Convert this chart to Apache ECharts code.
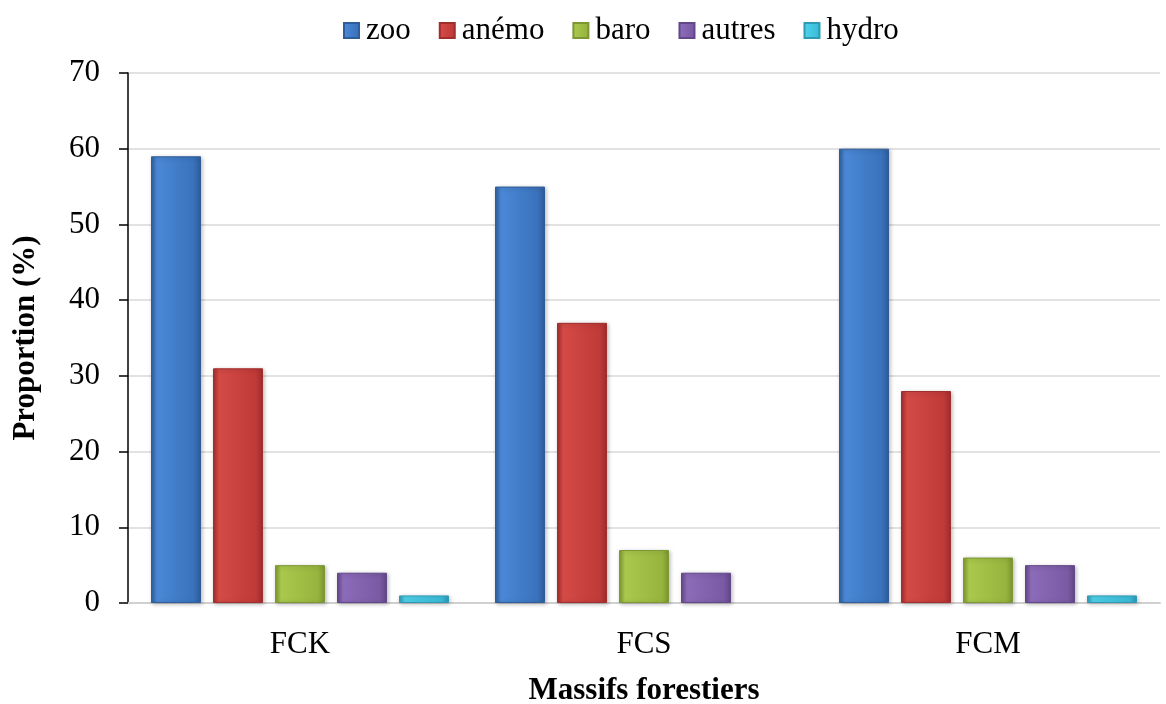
<!DOCTYPE html>
<html><head><meta charset="utf-8">
<script src="https://cdn.jsdelivr.net/npm/echarts@6/dist/echarts.min.js"></script>
<style>html,body{margin:0;padding:0;background:#fff}#c{width:1166px;height:704px}</style>
</head><body><div id="c"></div>
<script>
const categories = ['FCK', 'FCS', 'FCM'];
const seriesNames = ['zoo', 'anémo', 'baro', 'autres', 'hydro'];
const zoo = [59, 55, 60];
const anemo = [31, 37, 28];
const baro = [5, 7, 6];
const autres = [4, 4, 5];
const hydro = [1, 0, 1];
const yTicks = [0, 10, 20, 30, 40, 50, 60, 70];

const values = [zoo, anemo, baro, autres, hydro];
const colors = [
  ['#4a88d6', '#3a72bc', '#2f5d99'],
  ['#d44a47', '#c03a38', '#a02e2d'],
  ['#a9c84c', '#97b53e', '#7d9732'],
  ['#8c6bb8', '#7a5aa5', '#634889'],
  ['#4fd0ea', '#3bbcd8', '#2e9ab3']
];
const font = '"Liberation Serif","Times New Roman",serif';
const FS = 31;

const chart = echarts.init(document.getElementById('c'));
chart.setOption({
  animation: false,
  textStyle: { fontFamily: font },
  legend: {
    top: 10, left: 338, itemWidth: 15, itemHeight: 15, itemGap: 28,
    icon: 'rect',
    textStyle: { fontFamily: font, fontSize: FS, color: '#000', padding: [0, 0, 0, 2] },
    data: seriesNames
  },
  grid: { left: 128, right: 6, top: 73, bottom: 101, containLabel: false, outerBoundsMode: 'none' },
  xAxis: {
    type: 'category', data: categories,
    axisLine: { lineStyle: { color: '#d0d0d0', width: 2 } },
    axisTick: { show: false },
    axisLabel: { fontFamily: font, fontSize: FS, color: '#000', margin: 26 },
    name: 'Massifs forestiers', nameLocation: 'middle', nameGap: 72,
    nameTextStyle: { fontFamily: font, fontSize: FS, fontWeight: 'bold', color: '#000' }
  },
  yAxis: {
    type: 'value', min: 0, max: 70, interval: 10,
    axisLine: { show: true, lineStyle: { color: '#000', width: 1.5 } },
    axisTick: { show: true, length: 9, lineStyle: { color: '#000', width: 1.5 } },
    splitLine: { lineStyle: { color: '#d9d9d9', width: 1.5 } },
    axisLabel: { fontFamily: font, fontSize: FS, color: '#000', margin: 28,
      formatter: v => yTicks.includes(v) ? String(v) : '' },
    name: 'Proportion (%)', nameLocation: 'middle', nameGap: 87, nameRotate: 90,
    nameTextStyle: { fontFamily: font, fontSize: FS, fontWeight: 'bold', color: '#000' }
  },
  series: seriesNames.map((n, i) => ({
    name: n, type: 'bar',
    data: values[i].map(v => v === 0
      ? { value: v, itemStyle: { borderWidth: 0, shadowBlur: 0, shadowOffsetX: 0, shadowOffsetY: 0 } }
      : v),
    barWidth: 50, barGap: '24%',
    itemStyle: {
      color: new echarts.graphic.LinearGradient(0, 0, 1, 0, [
        { offset: 0, color: colors[i][2] },
        { offset: 0.12, color: colors[i][0] },
        { offset: 0.85, color: colors[i][1] },
        { offset: 1, color: colors[i][2] }
      ]),
      borderColor: colors[i][2], borderWidth: 1,
      shadowColor: 'rgba(0,0,0,0.25)', shadowBlur: 4, shadowOffsetX: 1, shadowOffsetY: 1
    }
  }))
});
</script></body></html>
